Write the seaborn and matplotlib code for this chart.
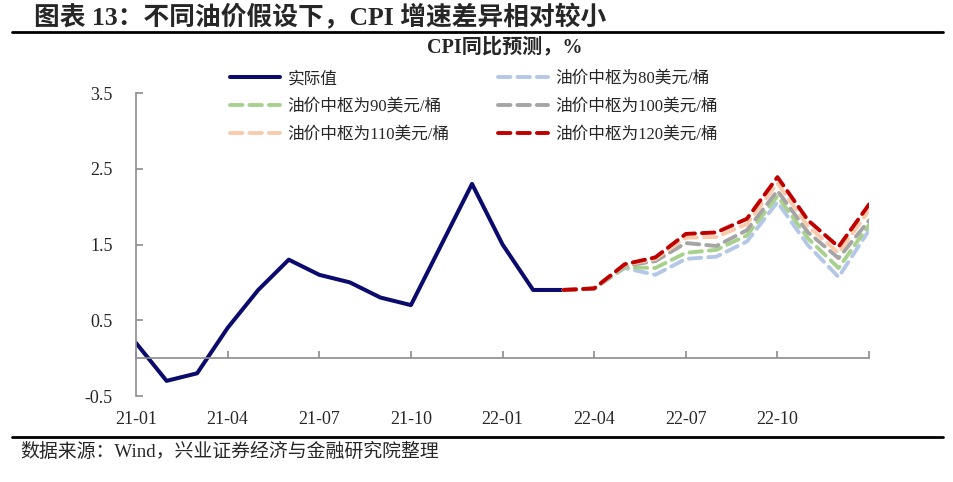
import numpy as np
import pandas as pd
import matplotlib.pyplot as plt
import seaborn as sns
from matplotlib.lines import Line2D

# data (CPI yoy, %)
months = ['20-12', '21-01', '21-02', '21-03', '21-04', '21-05', '21-06', '21-07',
          '21-08', '21-09', '21-10', '21-11', '21-12', '22-01', '22-02', '22-03',
          '22-04', '22-05', '22-06', '22-07', '22-08', '22-09', '22-10', '22-11', '22-12']
tick_labels = ['21-01', '21-04', '21-07', '21-10', '22-01', '22-04', '22-07', '22-10', '']

actual = [0.2, -0.3, -0.2, 0.4, 0.9, 1.3, 1.1, 1.0, 0.8, 0.7, 1.5, 2.3, 1.5, 0.9, 0.9]

# forecasts start at 22-02
oil80 = [0.9, 0.92, 1.19, 1.10, 1.31, 1.34, 1.54, 2.06, 1.49, 1.07, 1.69]
oil90 = [0.9, 0.92, 1.20, 1.19, 1.39, 1.43, 1.62, 2.14, 1.58, 1.19, 1.76]
oil100 = [0.9, 0.92, 1.22, 1.28, 1.52, 1.48, 1.69, 2.21, 1.66, 1.32, 1.82]
oil110 = [0.9, 0.92, 1.23, 1.31, 1.59, 1.60, 1.77, 2.31, 1.74, 1.39, 1.95]
oil120 = [0.9, 0.92, 1.24, 1.33, 1.64, 1.66, 1.84, 2.39, 1.82, 1.47, 2.03]

sns.set_style('white')
plt.rcParams['font.family'] = ['Liberation Serif', 'Noto Sans CJK SC']
plt.rcParams['axes.unicode_minus'] = False

x_all = np.arange(len(months))
x_fc = x_all[len(actual) - 1:]

fig = plt.figure(figsize=(9.54, 4.82), dpi=100)
ax = fig.add_axes([0.1426, 0.1784, 0.7684, 0.6286])

# actual values
sns.lineplot(x=x_all[:len(actual)], y=actual, color='#0b0b6e', lw=2.9,
             label='实际值', ax=ax)

series = [
    ('油价中枢为80美元/桶', oil80, '#b4c7e7'),
    ('油价中枢为90美元/桶', oil90, '#a9d18e'),
    ('油价中枢为100美元/桶', oil100, '#a5a5a5'),
    ('油价中枢为110美元/桶', oil110, '#f8cbad'),
    ('油价中枢为120美元/桶', oil120, '#c00000'),
]
for name, vals, col in series:
    sns.lineplot(x=x_fc, y=vals, color=col, lw=2.8, label=name, ax=ax)
    ax.lines[-1].set_dashes((3.2, 1.8))
    ax.lines[-1].set_dash_capstyle('round')

ax.set_xlim(0, 24)
ax.set_ylim(-0.5, 3.5)
ax.set_yticks([-0.5, 0.5, 1.5, 2.5, 3.5])
ax.set_yticklabels(['-0.5', '0.5', '1.5', '2.5', '3.5'])
ax.set_xticks(x_all[::3])
ax.set_xticklabels(tick_labels)

for s in ['top', 'right']:
    ax.spines[s].set_visible(False)
ax.spines['bottom'].set_position(('data', 0))
for s in ['left', 'bottom']:
    ax.spines[s].set_color('#8c8c8c')
    ax.spines[s].set_linewidth(1.2)
ax.tick_params(axis='y', left=True, direction='in', length=5, width=1.2,
               color='#8c8c8c', labelsize=13, pad=17)
ax.tick_params(axis='x', bottom=True, direction='in', length=5, width=1.2,
               color='#8c8c8c', labelsize=13, pad=38)
ax.set_xlabel('')
ax.set_ylabel('')

# legend: column-wise order gives the reference row layout
handles, labels = ax.get_legend_handles_labels()
order = [0, 2, 4, 1, 3, 5]
ax.legend([handles[i] for i in order], [labels[i] for i in order], ncol=2,
          frameon=False, fontsize=12, loc='upper left', bbox_to_anchor=(0.117, 1.10),
          borderpad=0, handlelength=3.0, handletextpad=0.45, columnspacing=2.9,
          labelspacing=0.72)

fig.text(0.529, 0.902, 'CPI同比预测，%', ha='center', va='center',
         fontsize=14.5, fontweight='bold')

fig.text(0.036, 0.965, '图表 13：不同油价假设下，CPI 增速差异相对较小', ha='left',
         va='center', fontsize=18.5, fontweight='bold')
fig.add_artist(Line2D([0.013, 0.988], [0.933, 0.933], color='black', lw=2))
fig.add_artist(Line2D([0.013, 0.988], [0.094, 0.094], color='black', lw=2))
fig.text(0.021, 0.062, '数据来源：Wind，兴业证券经济与金融研究院整理', ha='left',
         va='center', fontsize=13.6)

plt.savefig('out.png', dpi=100)
